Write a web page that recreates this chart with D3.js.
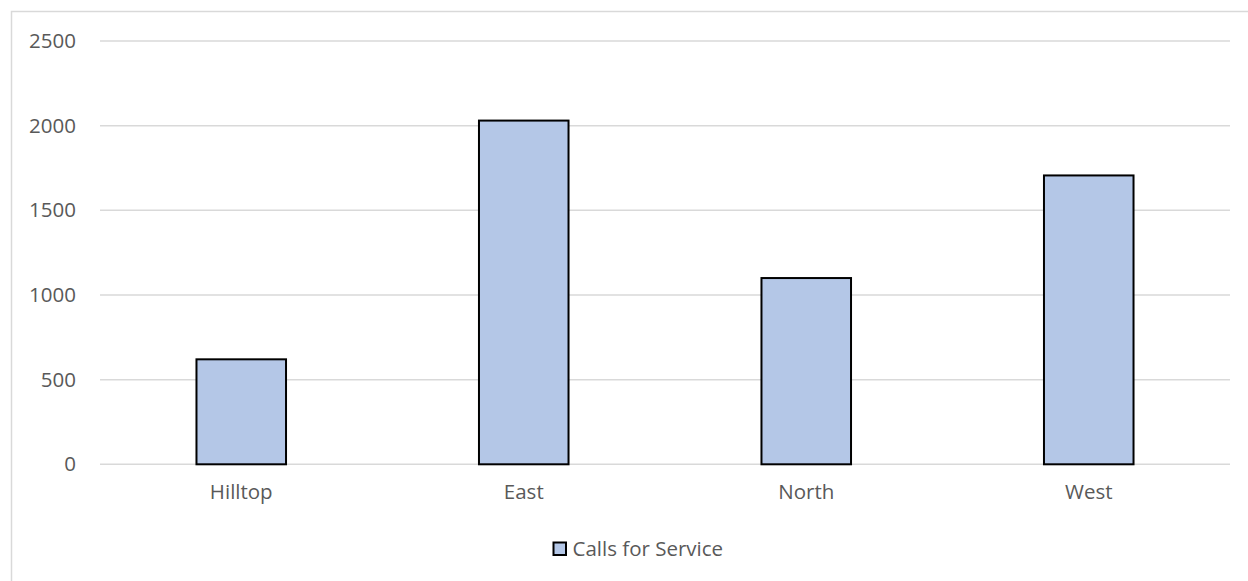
<!DOCTYPE html>
<html>
<head>
<meta charset="utf-8">
<script src="https://cdn.jsdelivr.net/npm/d3@7"></script>
<style>
  html, body { margin: 0; padding: 0; background: #fff; }
  svg { display: block; font-family: "Open Sans", sans-serif; }
</style>
</head>
<body>
<svg id="chart" width="1248" height="581"></svg>
<script>
const categories = ["Hilltop", "East", "North", "West"];
const seriesName = "Calls for Service";
const values = [620, 2030, 1100, 1706];
const yTicks = [0, 500, 1000, 1500, 2000, 2500];

const svg = d3.select("#chart");
const plot = { left: 100, right: 1230, top: 41, bottom: 464.3 };
const textColor = "#595959";

// outer chart border
svg.append("rect")
  .attr("x", 11.5).attr("y", 11.5)
  .attr("width", 1260).attr("height", 600)
  .attr("fill", "none").attr("stroke", "#d9d9d9").attr("stroke-width", 1.5);

const x = d3.scaleBand().domain(categories)
  .range([plot.left, plot.right]).paddingInner(0.683).paddingOuter(0.3415);
const y = d3.scaleLinear().domain([0, 2500]).range([plot.bottom, plot.top]);

// gridlines
svg.append("g").selectAll("line").data(yTicks).join("line")
  .attr("x1", plot.left).attr("x2", plot.right)
  .attr("y1", d => y(d)).attr("y2", d => y(d))
  .attr("stroke", "#d9d9d9").attr("stroke-width", 1.5);

// y axis labels
const yAxis = d3.axisLeft(y).tickValues(yTicks).tickFormat(d3.format("d"))
  .tickSize(0).tickPadding(24);
const gy = svg.append("g").attr("transform", `translate(${plot.left},0)`).call(yAxis);
gy.select(".domain").remove();
gy.selectAll("text").attr("fill", textColor).style("font-size", "20.5px")
  .style("font-family", '"Open Sans", sans-serif');

// bars
svg.append("g").selectAll("rect").data(values).join("rect")
  .attr("x", (d, i) => x(categories[i]))
  .attr("y", d => y(d))
  .attr("width", x.bandwidth())
  .attr("height", d => y(0) - y(d))
  .attr("fill", "#b4c7e7").attr("stroke", "#000").attr("stroke-width", 2);

// x axis labels
const xAxis = d3.axisBottom(x).tickSize(0).tickPadding(20);
const gx = svg.append("g").attr("transform", `translate(0,${plot.bottom})`).call(xAxis);
gx.select(".domain").remove();
gx.selectAll("text").attr("fill", textColor).style("font-size", "20.5px")
  .style("font-family", '"Open Sans", sans-serif');

// legend
const lg = svg.append("g").attr("transform", "translate(553.5,542.5)");
lg.append("rect").attr("width", 12.5).attr("height", 12.5)
  .attr("fill", "#b4c7e7").attr("stroke", "#000").attr("stroke-width", 2);
lg.append("text").attr("x", 19).attr("y", 13).text(seriesName)
  .attr("fill", textColor).style("font-size", "20.5px");
</script>
</body>
</html>
